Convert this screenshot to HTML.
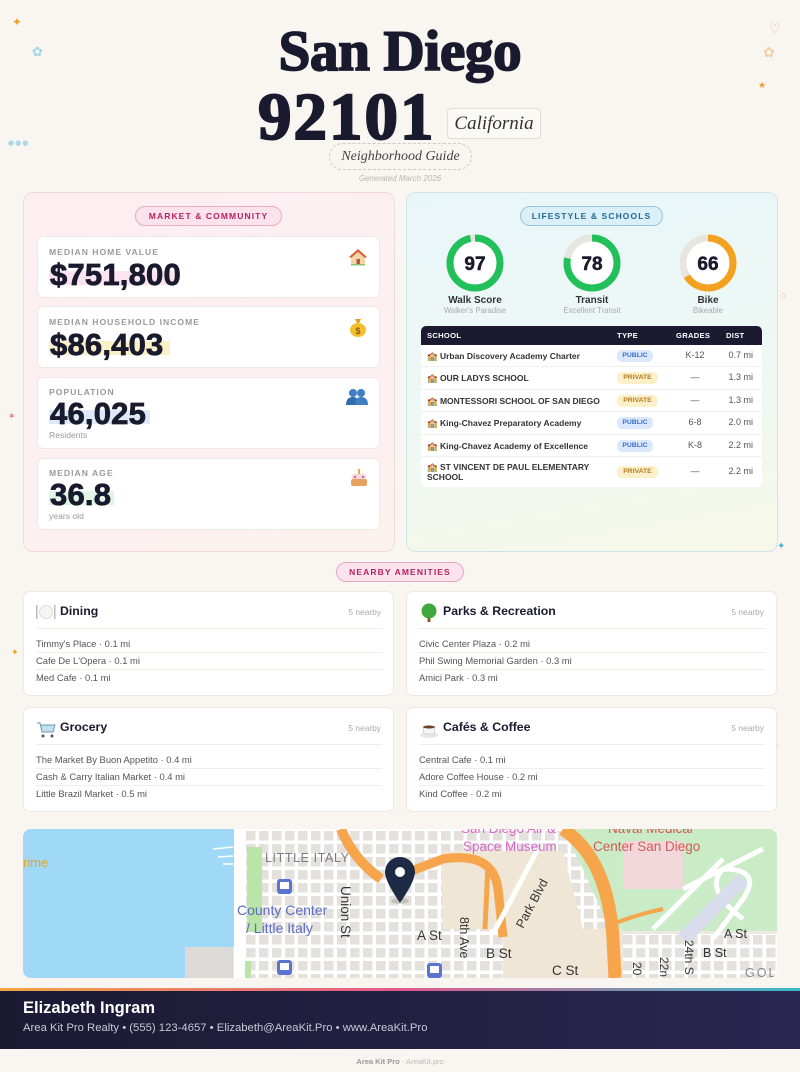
<!DOCTYPE html>
<html><head><meta charset="utf-8">
<style>
*{box-sizing:border-box;margin:0;padding:0}
body{width:800px;height:1072px;background:#f9f6f1;position:relative;overflow:hidden;font-family:"Liberation Sans",sans-serif;color:#1a1a2e}
.a{position:absolute}
.deco{position:absolute;font-family:"DejaVu Sans",sans-serif;line-height:1}
.pill{position:absolute;height:20px;border-radius:10px;font-size:8.5px;font-weight:bold;letter-spacing:1.1px;text-align:center;line-height:18px}
.pink{background:#fbe2ec;border:1px solid #eaa9c6;color:#b3245f}
.blue{background:#dbeff8;border:1px solid #93c8df;color:#1f6b92}
.card{position:absolute;left:37px;width:343px;background:#fff;border:1px solid #f1e7e7;border-radius:6px}
.lbl{position:absolute;left:11px;font-size:8.6px;font-weight:bold;letter-spacing:1px;color:#9a9a9a;line-height:1}
.val{position:absolute;left:12px;font-size:31px;font-weight:bold;color:#1a1a2e;line-height:1;-webkit-text-stroke:0.8px #1a1a2e;letter-spacing:0.2px}
.hl{position:absolute;left:11px;height:14px}
.sub{position:absolute;left:11px;font-size:8.6px;color:#999;line-height:1}
.ico{position:absolute;right:11px}
.ring{position:absolute;width:60px;height:60px}
.rl{position:absolute;width:110px;text-align:center;font-size:10px;font-weight:bold;color:#333;line-height:1}
.rs{position:absolute;width:110px;text-align:center;font-size:7.8px;color:#aaa;line-height:1}
.row{position:absolute;left:421px;width:341px;background:#fff;border-bottom:1px solid #f2f0ee}
.sn{position:absolute;left:6px;font-size:8.5px;font-weight:bold;color:#333;white-space:nowrap;line-height:10px}
.bdg{position:absolute;left:196px;height:12px;border-radius:5px;font-size:6.8px;font-weight:bold;line-height:12px;text-align:center}
.pub{width:36px;background:#dbe8fc;color:#3c6fd6}
.pri{width:41px;background:#fcf0c9;color:#b57a22}
.gr{position:absolute;left:250px;width:48px;text-align:center;font-size:9px;color:#555;line-height:1}
.ds{position:absolute;right:9px;font-size:9px;color:#555;line-height:1}
.am{position:absolute;width:371px;height:105px;background:#fff;border:1px solid #eee8e2;border-radius:7px}
.amt{position:absolute;left:36px;top:12px;font-size:12.3px;font-weight:bold;color:#1a1a2e;line-height:14px}
.amn{position:absolute;right:12px;top:15px;font-size:8.4px;color:#aaa;line-height:10px}
.ami{position:absolute;left:12px;width:346px;font-size:9.4px;color:#555;line-height:11px}
.sep{position:absolute;left:12px;width:346px;height:1px;background:#f1ede8}
.amic{position:absolute;left:12px;top:11px}
</style></head><body>

<!-- decorations -->
<div class="deco" style="left:12px;top:16px;color:#f0a020;font-size:12px">✦</div>
<div class="deco" style="left:32px;top:46px;color:#9fd6e6;font-size:13px">✿</div>
<div class="deco" style="left:8px;top:140px;color:#a9d8e6;font-size:7px;letter-spacing:1px">●●●</div>
<div class="deco" style="left:769px;top:23px;color:#e6a3bd;font-size:13px">♡</div>
<div class="deco" style="left:763px;top:46px;color:#f3cfa0;font-size:14px">✿</div>
<div class="deco" style="left:758px;top:82px;color:#f0a020;font-size:9px">★</div>
<div class="deco" style="left:8px;top:413px;color:#e86fa0;font-size:9px">✶</div>
<div class="deco" style="left:780px;top:292px;color:#f3c080;font-size:8px">◇</div>
<div class="deco" style="left:777px;top:542px;color:#4bb6d8;font-size:10px">✦</div>
<div class="deco" style="left:11px;top:649px;color:#f0a020;font-size:9px">✦</div>
<div class="deco" style="left:773px;top:742px;color:#f0a0c0;font-size:7px">◇</div>

<!-- header -->
<div class="a" style="left:0;width:800px;top:23px;text-align:center;font-family:'Liberation Serif',serif;font-weight:bold;font-size:57px;line-height:57px;color:#1a1a2e;-webkit-text-stroke:1.8px #1a1a2e;letter-spacing:-0.3px">San Diego</div>
<div class="a" style="left:258px;top:84px;font-family:'Liberation Serif',serif;font-weight:bold;font-size:67px;line-height:67px;color:#1a1a2e;-webkit-text-stroke:2px #1a1a2e;letter-spacing:2px">92101</div>
<div class="a" style="left:447px;top:108px;width:94px;height:31px;border:1px solid #e4ddd4;border-radius:4px;background:#fbf9f5;text-align:center;font-family:'Liberation Serif',serif;font-style:italic;font-size:19px;line-height:29px;color:#333">California</div>
<div class="a" style="left:329px;top:143px;width:143px;height:27px;border:1.3px dashed #cfc8c0;border-radius:14px;text-align:center;font-family:'Liberation Serif',serif;font-style:italic;font-size:14px;line-height:25px;color:#444">Neighborhood Guide</div>
<div class="a" style="left:0;width:800px;top:174px;text-align:center;font-size:8px;font-style:italic;color:#bcb6ae;line-height:9px">Generated March 2026</div>

<!-- left panel -->
<div class="a" style="left:23px;top:192px;width:372px;height:360px;border:1px solid #f2d8de;border-radius:10px;background:linear-gradient(160deg,#fdeef2 0%,#fcf0f1 55%,#fbf2ee 100%)"></div>
<div class="pill pink" style="left:135px;top:206px;width:147px">MARKET &amp; COMMUNITY</div>

<div class="card" style="top:236px;height:62px">
  <div class="lbl" style="top:11px">MEDIAN HOME VALUE</div>
  <div class="hl" style="top:34px;width:130px;background:#fbe3f0"></div>
  <div class="val" style="top:22px">$751,800</div>
  <svg class="ico" style="top:10px" width="20" height="20" viewBox="0 0 20 20"><path d="M10 2 L1 10 L3 10 L3 18 L17 18 L17 10 L19 10 Z" fill="#f1d6a8"/><path d="M10 2 L1 10 L3 11 L10 5 L17 11 L19 10 Z" fill="#d9623a"/><rect x="8.5" y="12" width="3.5" height="6" fill="#c0543a"/><rect x="3" y="17" width="14" height="1.5" fill="#8cc070"/></svg>
</div>
<div class="card" style="top:306px;height:62px">
  <div class="lbl" style="top:11px">MEDIAN HOUSEHOLD INCOME</div>
  <div class="hl" style="top:34px;width:121px;background:#fcf0c6"></div>
  <div class="val" style="top:22px">$86,403</div>
  <svg class="ico" style="top:9px" width="20" height="22" viewBox="0 0 20 22"><path d="M7 3 L13 3 L11 7 L9 7 Z" fill="#e0a020"/><ellipse cx="10" cy="14" rx="8" ry="7" fill="#f3bf2c"/><text x="10" y="18" font-size="9" font-weight="bold" text-anchor="middle" fill="#8a5a10" font-family="Liberation Sans">$</text></svg>
</div>
<div class="card" style="top:377px;height:72px">
  <div class="lbl" style="top:10px">POPULATION</div>
  <div class="hl" style="top:32px;width:101px;background:#dde8f8"></div>
  <div class="val" style="top:20px">46,025</div>
  <div class="sub" style="top:53px">Residents</div>
  <svg class="ico" style="top:10px" width="22" height="18" viewBox="0 0 22 18"><circle cx="7" cy="5" r="4" fill="#3f7fc4"/><circle cx="15" cy="5" r="4" fill="#3f7fc4"/><path d="M0 17 Q0 9 7 9 Q13 9 13 17Z" fill="#2f6db0"/><path d="M9 17 Q9 9 15 9 Q22 9 22 17Z" fill="#3f7fc4"/></svg>
</div>
<div class="card" style="top:458px;height:72px">
  <div class="lbl" style="top:10px">MEDIAN AGE</div>
  <div class="hl" style="top:32px;width:65px;background:#dff5e5"></div>
  <div class="val" style="top:20px">36.8</div>
  <div class="sub" style="top:53px">years old</div>
  <svg class="ico" style="top:9px" width="18" height="20" viewBox="0 0 18 20"><rect x="8" y="1" width="2" height="5" fill="#e8b040"/><rect x="2" y="6" width="14" height="6" rx="2" fill="#f6d6e0"/><rect x="1" y="11" width="16" height="7" rx="2" fill="#e9a060"/><circle cx="5" cy="9" r="1" fill="#d04050"/><circle cx="13" cy="9" r="1" fill="#d04050"/></svg>
</div>

<!-- right panel -->
<div class="a" style="left:406px;top:192px;width:372px;height:360px;border:1px solid #cfe3ea;border-radius:10px;background:linear-gradient(170deg,#e9f6f9 0%,#eef8f4 55%,#f7f8e8 100%)"></div>
<div class="pill blue" style="left:520px;top:206px;width:143px">LIFESTYLE &amp; SCHOOLS</div>

<svg class="ring" style="left:445px;top:233px" viewBox="0 0 60 60"><circle cx="30" cy="30" r="25" fill="#fff" stroke="#e8e5e0" stroke-width="7"/><circle cx="30" cy="30" r="25" fill="none" stroke="#22c05a" stroke-width="7" stroke-dasharray="152.4 200" transform="rotate(-90 30 30)"/><text x="30" y="37" text-anchor="middle" font-size="19" font-weight="bold" fill="#1a1a2e" font-family="Liberation Sans" stroke="#1a1a2e" stroke-width="0.5">97</text></svg>
<svg class="ring" style="left:562px;top:233px" viewBox="0 0 60 60"><circle cx="30" cy="30" r="25" fill="#fff" stroke="#e8e5e0" stroke-width="7"/><circle cx="30" cy="30" r="25" fill="none" stroke="#22c05a" stroke-width="7" stroke-dasharray="122.5 200" transform="rotate(-90 30 30)"/><text x="30" y="37" text-anchor="middle" font-size="19" font-weight="bold" fill="#1a1a2e" font-family="Liberation Sans" stroke="#1a1a2e" stroke-width="0.5">78</text></svg>
<svg class="ring" style="left:678px;top:233px" viewBox="0 0 60 60"><circle cx="30" cy="30" r="25" fill="#fff" stroke="#e8e5e0" stroke-width="7"/><circle cx="30" cy="30" r="25" fill="none" stroke="#f3a21f" stroke-width="7" stroke-dasharray="103.7 200" transform="rotate(-90 30 30)"/><text x="30" y="37" text-anchor="middle" font-size="19" font-weight="bold" fill="#1a1a2e" font-family="Liberation Sans" stroke="#1a1a2e" stroke-width="0.5">66</text></svg>
<div class="rl" style="left:420px;top:296px">Walk Score</div>
<div class="rs" style="left:420px;top:307px">Walker's Paradise</div>
<div class="rl" style="left:537px;top:296px">Transit</div>
<div class="rs" style="left:537px;top:307px">Excellent Transit</div>
<div class="rl" style="left:653px;top:296px">Bike</div>
<div class="rs" style="left:653px;top:307px">Bikeable</div>

<!-- table -->
<div class="a" style="left:421px;top:326px;width:341px;height:19px;background:#1b1a30;border-radius:5px 5px 0 0;color:#fff;font-size:7.6px;font-weight:bold;letter-spacing:0.3px;line-height:19px">
  <span class="a" style="left:6px">SCHOOL</span><span class="a" style="left:196px">TYPE</span><span class="a" style="left:255px">GRADES</span><span class="a" style="left:305px">DIST</span>
</div>
<div class="row" style="top:345px;height:22px"><div class="sn" style="top:6px">🏫 Urban Discovery Academy Charter</div><div class="bdg pub" style="top:5px">PUBLIC</div><div class="gr" style="top:6px">K-12</div><div class="ds" style="top:6px">0.7 mi</div></div>
<div class="row" style="top:367px;height:23px"><div class="sn" style="top:6px">🏫 OUR LADYS SCHOOL</div><div class="bdg pri" style="top:5px">PRIVATE</div><div class="gr" style="top:6px">—</div><div class="ds" style="top:6px">1.3 mi</div></div>
<div class="row" style="top:390px;height:22px"><div class="sn" style="top:6px">🏫 MONTESSORI SCHOOL OF SAN DIEGO</div><div class="bdg pri" style="top:5px">PRIVATE</div><div class="gr" style="top:6px">—</div><div class="ds" style="top:6px">1.3 mi</div></div>
<div class="row" style="top:412px;height:23px"><div class="sn" style="top:6px">🏫 King-Chavez Preparatory Academy</div><div class="bdg pub" style="top:5px">PUBLIC</div><div class="gr" style="top:6px">6-8</div><div class="ds" style="top:6px">2.0 mi</div></div>
<div class="row" style="top:435px;height:22px"><div class="sn" style="top:6px">🏫 King-Chavez Academy of Excellence</div><div class="bdg pub" style="top:5px">PUBLIC</div><div class="gr" style="top:6px">K-8</div><div class="ds" style="top:6px">2.2 mi</div></div>
<div class="row" style="top:457px;height:30px;border-bottom:none;border-radius:0 0 4px 4px"><div class="sn" style="top:5px">🏫 ST VINCENT DE PAUL ELEMENTARY<br>SCHOOL</div><div class="bdg pri" style="top:9px">PRIVATE</div><div class="gr" style="top:10px">—</div><div class="ds" style="top:10px">2.2 mi</div></div>

<!-- amenities -->
<div class="pill pink" style="left:336px;top:562px;width:128px">NEARBY AMENITIES</div>

<div class="am" style="left:23px;top:591px">
  <svg class="amic" width="20" height="18" viewBox="0 0 20 18"><rect x="0" y="2" width="1.5" height="14" fill="#bbb"/><circle cx="10" cy="9" r="6.5" fill="#f4f4f4" stroke="#ddd"/><rect x="18" y="2" width="1.5" height="14" fill="#bbb"/></svg>
  <div class="amt">Dining</div><div class="amn">5 nearby</div>
  <div class="sep" style="top:36px"></div>
  <div class="ami" style="top:46px">Timmy's Place · 0.1 mi</div>
  <div class="sep" style="top:60px"></div>
  <div class="ami" style="top:63px">Cafe De L'Opera · 0.1 mi</div>
  <div class="sep" style="top:77px"></div>
  <div class="ami" style="top:80px">Med Cafe · 0.1 mi</div>
</div>
<div class="am" style="left:406px;top:591px">
  <svg class="amic" width="20" height="20" viewBox="0 0 20 20"><rect x="8.5" y="11" width="3" height="8" fill="#8a5a30"/><circle cx="10" cy="8" r="7.5" fill="#3fa83c"/></svg>
  <div class="amt">Parks &amp; Recreation</div><div class="amn">5 nearby</div>
  <div class="sep" style="top:36px"></div>
  <div class="ami" style="top:46px">Civic Center Plaza · 0.2 mi</div>
  <div class="sep" style="top:60px"></div>
  <div class="ami" style="top:63px">Phil Swing Memorial Garden · 0.3 mi</div>
  <div class="sep" style="top:77px"></div>
  <div class="ami" style="top:80px">Amici Park · 0.3 mi</div>
</div>
<div class="am" style="left:23px;top:707px">
  <svg class="amic" width="20" height="20" viewBox="0 0 20 20"><path d="M1 4 L4 4 L6 13 L17 13 L19 6 L5 6" fill="#bfe0ee" stroke="#6a9ab0" stroke-width="1"/><circle cx="7" cy="17" r="1.5" fill="#555"/><circle cx="16" cy="17" r="1.5" fill="#555"/></svg>
  <div class="amt">Grocery</div><div class="amn">5 nearby</div>
  <div class="sep" style="top:36px"></div>
  <div class="ami" style="top:46px">The Market By Buon Appetito · 0.4 mi</div>
  <div class="sep" style="top:60px"></div>
  <div class="ami" style="top:63px">Cash &amp; Carry Italian Market · 0.4 mi</div>
  <div class="sep" style="top:77px"></div>
  <div class="ami" style="top:80px">Little Brazil Market · 0.5 mi</div>
</div>
<div class="am" style="left:406px;top:707px">
  <svg class="amic" width="20" height="20" viewBox="0 0 20 20"><ellipse cx="10" cy="16" rx="9" ry="3" fill="#e8e8e8"/><path d="M4 8 L16 8 L15 15 L5 15Z" fill="#f4f4f4" stroke="#ccc" stroke-width="0.8"/><ellipse cx="10" cy="8" rx="6" ry="1.5" fill="#6b4226"/></svg>
  <div class="amt">Cafés &amp; Coffee</div><div class="amn">5 nearby</div>
  <div class="sep" style="top:36px"></div>
  <div class="ami" style="top:46px">Central Cafe · 0.1 mi</div>
  <div class="sep" style="top:60px"></div>
  <div class="ami" style="top:63px">Adore Coffee House · 0.2 mi</div>
  <div class="sep" style="top:77px"></div>
  <div class="ami" style="top:80px">Kind Coffee · 0.2 mi</div>
</div>

<!-- map -->
<div class="a" style="left:23px;top:829px;width:754px;height:149px;border-radius:8px;overflow:hidden">
<svg width="754" height="149" viewBox="0 0 754 149" font-family="Liberation Sans, DejaVu Sans, sans-serif">
  <defs>
    <pattern id="g" x="0" y="0" width="13" height="13" patternUnits="userSpaceOnUse"><rect width="13" height="13" fill="#fff"/><rect x="2" y="2" width="9.5" height="9.5" fill="#e4e1dd"/></pattern>
  </defs>
  <rect width="754" height="149" fill="#ece9e4"/>
  <rect x="222" y="0" width="365" height="149" fill="url(#g)"/>
  <rect x="597" y="105" width="157" height="44" fill="url(#g)"/>
  <path d="M418 22 L540 22 L560 100 L600 100 L600 149 L480 149 L480 100 L420 100Z" fill="#efe6d5"/>
  <path d="M540 0 L754 0 L754 102 L600 102 L580 85 L560 40Z" fill="#c9ebc5"/>
  <path d="M600 12 L660 12 L660 60 L600 60Z" fill="#f2d8da"/>
  <path d="M660 60 L740 20 M690 110 L720 70 Q740 40 700 40 Q680 60 720 90 M630 100 L700 30" stroke="#fff" stroke-width="5" fill="none"/>
  <path d="M660 110 L720 50" stroke="#d8dcec" stroke-width="14" fill="none"/>
  <path d="M0 0 L211 0 L211 118 L162 118 L162 149 L0 149Z" fill="#a0d9f7"/>
  <rect x="162" y="118" width="48" height="31" fill="#dcdad6"/>
  <rect x="211" y="0" width="11" height="149" fill="#fff"/>
  <rect x="224" y="18" width="15" height="85" fill="#b9e6a8"/>
  <rect x="222" y="132" width="6" height="17" fill="#b9e6a8"/>
  <path d="M190 20 L210 18 M195 28 L210 27 M200 35 L210 35" stroke="#fff" stroke-width="1.5"/>
  <path d="M318 0 Q330 30 358 50" stroke="#f6a54c" stroke-width="10" fill="none"/>
  <path d="M380 45 L420 30 Q470 22 475 60 L480 108" stroke="#f6a54c" stroke-width="9" fill="none"/>
  <path d="M465 35 L462 100" stroke="#f6a54c" stroke-width="5" fill="none"/>
  <path d="M540 0 Q585 30 590 110 L592 149" stroke="#f6a54c" stroke-width="13" fill="none"/>
  <path d="M590 95 Q615 85 640 80" stroke="#f6a54c" stroke-width="4" fill="none"/>
  <path d="M470 105 L515 20" stroke="#fff" stroke-width="5"/>
  <text x="0" y="38" font-size="13" fill="#e3a42c">rime</text>
  <text x="242" y="33" font-size="12.5" fill="#7b7b80" letter-spacing="0.6">LITTLE ITALY</text>
  <text x="214" y="86" font-size="14" fill="#5a6bc6">County Center</text>
  <text x="223" y="104" font-size="14" fill="#5a6bc6">/ Little Italy</text>
  <text x="318" y="57" font-size="13.5" fill="#333" transform="rotate(90 318 57)">Union St</text>
  <text x="394" y="111" font-size="13.5" fill="#333">A St</text>
  <text x="437" y="88" font-size="12.5" fill="#333" transform="rotate(90 437 88)">8th Ave</text>
  <text x="463" y="129" font-size="13.5" fill="#333">B St</text>
  <text x="500" y="100" font-size="12.5" fill="#333" transform="rotate(-62 500 100)">Park Blvd</text>
  <text x="529" y="146" font-size="13.5" fill="#333">C St</text>
  <text x="438" y="4" font-size="13.5" fill="#d76ac8">San Diego Air &amp;</text>
  <text x="440" y="22" font-size="13.5" fill="#d76ac8">Space Museum</text>
  <text x="585" y="4" font-size="13.5" fill="#d45858">Naval Medical</text>
  <text x="570" y="22" font-size="13.5" fill="#d45858">Center San Diego</text>
  <text x="701" y="109" font-size="12.5" fill="#333">A St</text>
  <text x="680" y="128" font-size="12.5" fill="#333">B St</text>
  <text x="610" y="133" font-size="12" fill="#333" transform="rotate(90 610 133)">20</text>
  <text x="637" y="128" font-size="12" fill="#333" transform="rotate(90 637 128)">22n</text>
  <text x="662" y="111" font-size="12" fill="#333" transform="rotate(90 662 111)">24th S</text>
  <text x="722" y="148" font-size="12.5" fill="#888" letter-spacing="2">GOL</text>
  <rect x="254" y="50" width="15" height="15" rx="3" fill="#5a74d0"/><rect x="257" y="53" width="9" height="7" fill="#fff"/>
  <rect x="254" y="131" width="15" height="15" rx="3" fill="#5a74d0"/><rect x="257" y="134" width="9" height="7" fill="#fff"/>
  <rect x="404" y="134" width="15" height="15" rx="3" fill="#5a74d0"/><rect x="407" y="137" width="9" height="7" fill="#fff"/>
  <ellipse cx="377" cy="72" rx="9" ry="3" fill="#000" opacity="0.15"/>
  <path d="M377 74 Q362 52 362 43 A15 15 0 0 1 392 43 Q392 52 377 74Z" fill="#1d2a45"/>
  <circle cx="377" cy="43" r="5" fill="#fff"/>
</svg>
</div>

<!-- footer -->
<div class="a" style="left:0;top:988px;width:800px;height:3px;background:linear-gradient(90deg,#f2a443,#e25a8c 50%,#3bb8c9)"></div>
<div class="a" style="left:0;top:991px;width:800px;height:58px;background:linear-gradient(90deg,#1b1a33,#2a2650)"></div>
<div class="a" style="left:23px;top:999px;font-size:16.5px;font-weight:bold;color:#fff;line-height:19px">Elizabeth Ingram</div>
<div class="a" style="left:23px;top:1021px;font-size:11.3px;color:#c9c8d8;line-height:14px;white-space:nowrap">Area Kit Pro Realty • (555) 123-4657 • Elizabeth@AreaKit.Pro • www.AreaKit.Pro</div>
<div class="a" style="left:0;width:800px;top:1057px;text-align:center;font-size:7.5px;line-height:9px;color:#bbb"><b style="color:#999">Area Kit Pro</b> · AreaKit.pro</div>

</body></html>
